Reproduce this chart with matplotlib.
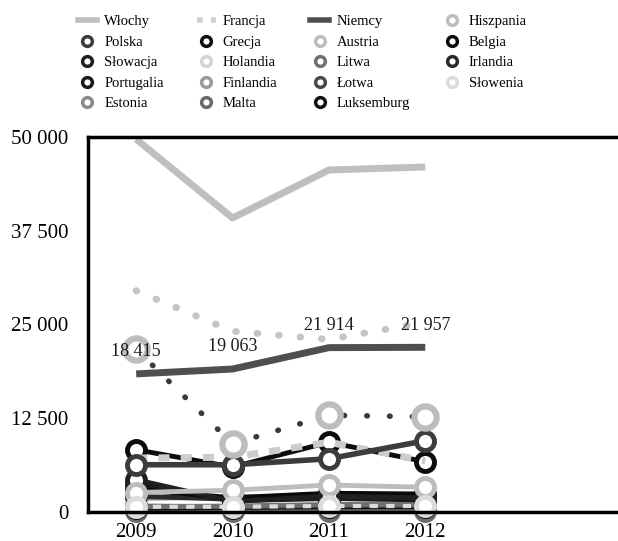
import matplotlib.pyplot as plt
from matplotlib.lines import Line2D
from matplotlib.ticker import FuncFormatter

years = [2009, 2010, 2011, 2012]

wlochy = [49700, 39200, 45600, 46000]
francja = [29500, 24100, 23000, 25300]
niemcy = [18415, 19063, 21914, 21957]
niemcy_labels = ['18 415', '19 063', '21 914', '21 957']
hiszpania = [21700, 9100, 12900, 12700]
polska = [6300, 6300, 7100, 9500]
grecja = [8300, 6000, 9300, 6700]
austria = [2600, 2900, 3600, 3300]
belgia = [3000, 1900, 2500, 2400]
slowacja = [4300, 1400, 2100, 1900]
holandia = [7200, 7300, 9300, 6800]
litwa = [700, 800, 1000, 1000]
irlandia = [2100, 1700, 1900, 1800]
portugalia = [3700, 1500, 1800, 1600]
finlandia = [1800, 2000, 2200, 2100]
lotwa = [800, 700, 900, 900]
slowenia = [700, 700, 800, 800]
estonia = [400, 400, 500, 500]
malta = [100, 100, 100, 100]
luksemburg = [500, 600, 700, 700]

y_ticks = [0, 12500, 25000, 37500, 50000]

plt.rcParams['font.family'] = ['Liberation Serif', 'DejaVu Serif']

fig = plt.figure(figsize=(6.18, 5.41), dpi=100)
ax = fig.add_axes([0.1424, 0.0536, 0.8576, 0.6932])

# marker series (name, values, colour)
ring_series = [
    ('Estonia', estonia, '#8a8a8a'),
    ('Malta', malta, '#6a6a6a'),
    ('Luksemburg', luksemburg, '#111111'),
    ('Łotwa', lotwa, '#4a4a4a'),
    ('Litwa', litwa, '#707070'),
    ('Finlandia', finlandia, '#9a9a9a'),
    ('Irlandia', irlandia, '#2a2a2a'),
    ('Portugalia', portugalia, '#1a1a1a'),
    ('Belgia', belgia, '#0a0a0a'),
    ('Słowacja', slowacja, '#202020'),
    ('Austria', austria, '#bdbdbd'),
    ('Grecja', grecja, '#0d0d0d'),
]
handles = {}
for name, vals, col in ring_series:
    h, = ax.plot(years, vals, color=col, lw=3.5, marker='o', markersize=13,
                 markerfacecolor='white', markeredgecolor=col,
                 markeredgewidth=3.5, clip_on=False, label=name)
    handles[name] = h

h, = ax.plot(years, slowenia, color='#dcdcdc', lw=3, ls=(0, (2, 2)),
             marker='o', markersize=13, markerfacecolor='white',
             markeredgecolor='#dcdcdc', markeredgewidth=3.5, clip_on=False)
handles['Słowenia'] = h

h, = ax.plot(years, holandia, color='#cccccc', lw=5, ls=(0, (1.6, 1.6)),
             clip_on=False)
handles['Holandia'] = Line2D([], [], color='#d5d5d5', marker='o', lw=0,
                            markersize=7, markerfacecolor='white',
                            markeredgewidth=2.5)

h, = ax.plot(years, polska, color='#3c3c3c', lw=4, marker='o', markersize=13,
             markerfacecolor='white', markeredgecolor='#3c3c3c',
             markeredgewidth=3.5, clip_on=False)
handles['Polska'] = h

ax.plot(years, wlochy, color='#bfbfbf', lw=5, solid_capstyle='butt')
handles['Włochy'] = Line2D([], [], color='#bfbfbf', lw=4)

ax.plot(years, francja, color='#c4c4c4', lw=5, ls=(0, (0.1, 3)),
        dash_capstyle='round')
handles['Francja'] = Line2D([], [], color='#d0d0d0', lw=4, ls=(0, (1, 1.5)))

ax.plot(years, niemcy, color='#4f4f4f', lw=5, solid_capstyle='butt')
handles['Niemcy'] = Line2D([], [], color='#4f4f4f', lw=4)

ax.plot(years, hiszpania, color='#3a3a3a', lw=4, ls=(0, (0.1, 4)),
        dash_capstyle='round')
ax.plot(years, hiszpania, lw=0, marker='o', markersize=16,
        markerfacecolor='white', markeredgecolor='#bdbdbd',
        markeredgewidth=4.5, clip_on=False)
handles['Hiszpania'] = Line2D([], [], color='#bdbdbd', marker='o', lw=0,
                             markersize=7, markerfacecolor='white',
                             markeredgewidth=2.5)

for x, v, t in zip(years, niemcy, niemcy_labels):
    ax.annotate(t, (x, v), xytext=(0, 16), textcoords='offset points',
                ha='center', va='center', fontsize=13, color='#1a1a1a')

# legend order: column-major for 4 columns
legend_order = [
    'Włochy', 'Polska', 'Słowacja', 'Portugalia', 'Estonia',
    'Francja', 'Grecja', 'Holandia', 'Finlandia', 'Malta',
    'Niemcy', 'Austria', 'Litwa', 'Łotwa', 'Luksemburg',
    'Hiszpania', 'Belgia', 'Irlandia', 'Słowenia',
]
leg_handles = []
for n in legend_order:
    h = handles[n]
    if n in ['Włochy', 'Francja', 'Niemcy', 'Hiszpania', 'Holandia']:
        leg_handles.append(h)
    else:
        c = h.get_color()
        leg_handles.append(Line2D([], [], color=c, marker='o', lw=0,
                                  markersize=7, markerfacecolor='white',
                                  markeredgecolor=c, markeredgewidth=2.5))
fig.legend(leg_handles, legend_order, ncol=4, loc='upper left',
           bbox_to_anchor=(78 / 618, 1 - 15 / 541), frameon=False,
           fontsize=10.5, handlelength=1.3, handletextpad=0.5,
           columnspacing=2.25, labelspacing=0.5, borderpad=0,
           borderaxespad=0)

ax.set_xlim(2008.5, 2014.0)
ax.set_ylim(0, 50000)
ax.set_xticks(years)
ax.set_yticks(y_ticks)
ax.yaxis.set_major_formatter(FuncFormatter(lambda v, p: f'{int(v):,}'.replace(',', ' ')))
ax.tick_params(length=0, labelsize=15, pad=14)
ax.tick_params(axis='x', pad=8)
for s in ['left', 'top', 'bottom']:
    ax.spines[s].set_linewidth(2.5)
    ax.spines[s].set_color('black')
ax.spines['right'].set_visible(False)

fig.savefig('out.png', dpi=100)
